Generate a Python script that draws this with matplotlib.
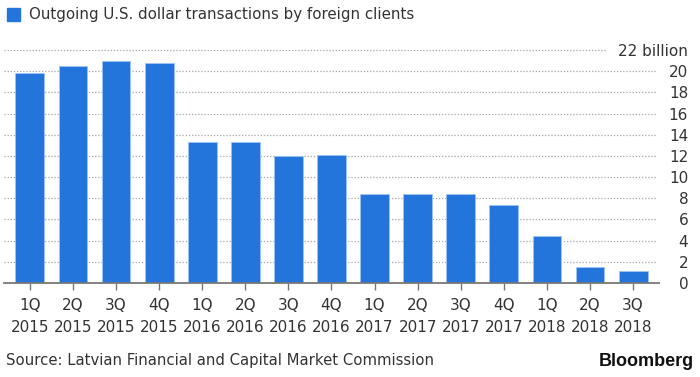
import matplotlib
matplotlib.use("Agg")
import matplotlib.pyplot as plt
import matplotlib.patches as mpatches

quarters = ["1Q", "2Q", "3Q", "4Q", "1Q", "2Q", "3Q", "4Q",
            "1Q", "2Q", "3Q", "4Q", "1Q", "2Q", "3Q"]
years = ["2015"] * 4 + ["2016"] * 4 + ["2017"] * 4 + ["2018"] * 3
values = [19.8, 20.5, 21.0, 20.8, 13.3, 13.3, 12.0, 12.1,
          8.4, 8.4, 8.4, 7.4, 4.4, 1.5, 1.1]
y_ticks = [0, 2, 4, 6, 8, 10, 12, 14, 16, 18, 20, 22]

BAR = "#2475db"
GRID = "#a6a6a6"
TEXT = "#333333"

fig = plt.figure(figsize=(7.0, 3.77), dpi=100)
ax = fig.add_axes([4 / 700, (377 - 283) / 377, 655 / 700, 233 / 377])

x = list(range(len(values)))
ax.bar(x, values, width=0.67, color=BAR, edgecolor="#9cc4f5", linewidth=0.6, zorder=3)
ax.set_xlim(-0.6, 14.6)
ax.set_ylim(0, 22)

# dotted gridlines; the top one stops short of the "billion" label
for v in y_ticks[1:]:
    x_end = 0.92 if v == 22 else 0.995
    ax.plot([0, x_end], [v, v], transform=ax.get_yaxis_transform(),
            color=GRID, linestyle=(0, (1, 1.5)), linewidth=0.9, zorder=1, clip_on=False)

for s in ["top", "right", "left"]:
    ax.spines[s].set_visible(False)
ax.spines["bottom"].set_color("#777777")
ax.spines["bottom"].set_linewidth(1.3)
ax.spines["bottom"].set_zorder(4)

ax.set_xticks(x)
ax.set_xticklabels([f"{q}\n{y}" for q, y in zip(quarters, years)],
                   fontsize=11, color=TEXT, linespacing=1.6)
ax.tick_params(axis="x", length=5, width=1, color="#777777", pad=6)

ax.yaxis.tick_right()
ax.set_yticks(y_ticks)
ax.set_yticklabels([str(v) if v != 22 else "22 billion" for v in y_ticks],
                   fontsize=11, color=TEXT)
ax.tick_params(axis="y", length=0, pad=21)
for lab in ax.get_yticklabels():
    lab.set_horizontalalignment("right")

fig.patches.append(mpatches.Rectangle((7 / 700, 1 - 21 / 377), 13 / 700, 13 / 377,
                                      transform=fig.transFigure, color=BAR))
fig.text(29 / 700, 1 - 14.5 / 377, "Outgoing U.S. dollar transactions by foreign clients",
         fontsize=10.8, color=TEXT, va="center", ha="left")
fig.text(6 / 700, 1 - 360 / 377, "Source: Latvian Financial and Capital Market Commission",
         fontsize=10.7, color=TEXT, va="center", ha="left")
fig.text(694 / 700, 1 - 361 / 377, "Bloomberg", fontsize=13, fontweight="bold",
         color="#111111", va="center", ha="right", family="Liberation Sans")

fig.savefig("out.png", dpi=100)
